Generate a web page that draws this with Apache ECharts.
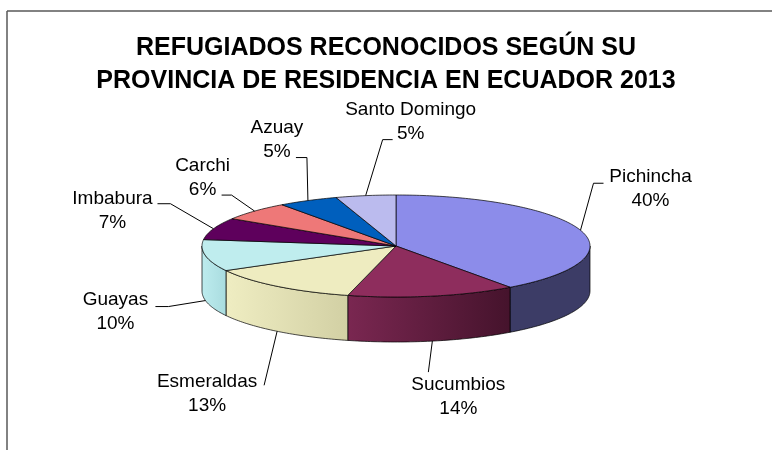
<!DOCTYPE html>
<html>
<head>
<meta charset="utf-8">
<script src="https://cdn.jsdelivr.net/npm/echarts@6/dist/echarts.min.js"></script>
<style>
  html, body { margin: 0; padding: 0; background: #fff; }
  #grafico { width: 772px; height: 450px; }
</style>
</head>
<body>
<div id="grafico"></div>
<script>
// datos
const provincias = ['Pichincha', 'Sucumbios', 'Esmeraldas', 'Guayas', 'Imbabura', 'Carchi', 'Azuay', 'Santo Domingo'];
const porcentajes = [40, 14, 13, 10, 7, 6, 5, 5];

// colores de la cara superior y del lateral (inicio, fin del degradado)
const colorCara = ['#8c8cea', '#8e2d5d', '#eeecc0', '#bfedee', '#5e005c', '#ee7878', '#005fbd', '#bbbbee'];
const colorLado = [['#3c3c66', '#3c3c66'], ['#7a2751', '#45132c'], ['#efedc2', '#d2d0a4'], ['#bdecee', '#a9dcdf'],
  ['#4a0048', '#4a0048'], ['#c06060', '#c06060'], ['#004c98', '#004c98'], ['#9898c8', '#9898c8']];

// colocación de las etiquetas respecto al punto de anclaje en el borde
const etiqDx = [70, 26, -70, -90, -101, -52, -31, 45];
const etiqDy = [-41, 56, 62, 11, -18, -33, -61, -74];
// fin de la línea guía respecto al centro de la etiqueta, y tramo horizontal
const guiaDx = [-47, -30, 57, 40, 45, 19, 19, -18];
const guiaDy = [-6, -25, -8, -5, -7, 17, 18, 18];
const codo = [-10, 0, 0, 13, 13, 10, 11, -10];

// geometría del pastel 3D
const CX = 396, CY = 246, RX = 194, RY = 51, ALTO = 45;

const total = porcentajes.reduce((a, b) => a + b, 0);

function punto(t, dy) {
  const r = t * Math.PI / 180;
  return [CX + RX * Math.sin(r), CY - RY * Math.cos(r) + dy];
}

function arco(t0, t1, dy) {
  const pts = [];
  const n = Math.max(2, Math.ceil(Math.abs(t1 - t0)));
  for (let k = 0; k <= n; k++) {
    pts.push(punto(t0 + (t1 - t0) * k / n, dy));
  }
  return pts;
}

function renderItem(params, api) {
  const i = params.dataIndex;
  let a0 = 0;
  for (let j = 0; j < i; j++) a0 += porcentajes[j] / total * 360;
  const a1 = a0 + api.value(0) / total * 360;
  const medio = (a0 + a1) / 2;
  const hijos = [];

  // cara superior
  hijos.push({
    type: 'polygon',
    z2: 2,
    shape: {points: [[CX, CY]].concat(arco(a0, a1, 0))},
    style: {fill: colorCara[i], stroke: '#000', lineWidth: 0.7}
  });

  // lateral visible (mitad delantera)
  const s = Math.max(a0, 90), e = Math.min(a1, 270);
  if (e > s) {
    hijos.push({
      type: 'polygon',
      z2: 1,
      shape: {points: arco(s, e, 0).concat(arco(e, s, ALTO))},
      style: {
        fill: new echarts.graphic.LinearGradient(0, 0, 1, 0, [
          {offset: 0, color: colorLado[i][0]},
          {offset: 1, color: colorLado[i][1]}
        ]),
        stroke: '#000',
        lineWidth: 0.7
      }
    });
  }

  // etiqueta y línea guía
  const delante = medio > 90 && medio < 270;
  const ancla = punto(medio, delante ? ALTO : 0);
  const ex = ancla[0] + etiqDx[i], ey = ancla[1] + etiqDy[i];
  const fin = [ex + guiaDx[i], ey + guiaDy[i]];
  const dobla = [fin[0] + codo[i], fin[1]];
  hijos.push({
    type: 'polyline',
    z2: 3,
    shape: {points: [fin, dobla, ancla]},
    style: {stroke: '#000', lineWidth: 1, fill: null}
  });
  hijos.push({
    type: 'text',
    z2: 4,
    x: ex,
    y: ey,
    style: {
      text: provincias[i] + '\n' + Math.round(api.value(0) / total * 100) + '%',
      fill: '#000',
      font: '19px "Liberation Sans", Arial, sans-serif',
      align: 'center',
      verticalAlign: 'middle',
      lineHeight: 24
    }
  });

  return {type: 'group', children: hijos};
}

const chart = echarts.init(document.getElementById('grafico'));
chart.setOption({
  backgroundColor: '#fff',
  animation: false,
  title: {
    text: 'REFUGIADOS RECONOCIDOS SEGÚN SU\nPROVINCIA DE RESIDENCIA EN ECUADOR 2013',
    left: 'center',
    top: 27,
    textStyle: {
      fontFamily: '"Liberation Sans", Arial, sans-serif',
      fontSize: 25,
      fontWeight: 'bold',
      color: '#000',
      lineHeight: 33
    }
  },
  graphic: [
    {type: 'line', shape: {x1: 7, y1: 11, x2: 772, y2: 11}, style: {stroke: '#595959', lineWidth: 1.5}},
    {type: 'line', shape: {x1: 7, y1: 11, x2: 7, y2: 450}, style: {stroke: '#595959', lineWidth: 1.5}}
  ],
  series: [
    {
      type: 'custom',
      coordinateSystem: 'none',
      silent: true,
      renderItem: renderItem,
      data: porcentajes.map((v, i) => ({name: provincias[i], value: v}))
    }
  ]
});
</script>
</body>
</html>
